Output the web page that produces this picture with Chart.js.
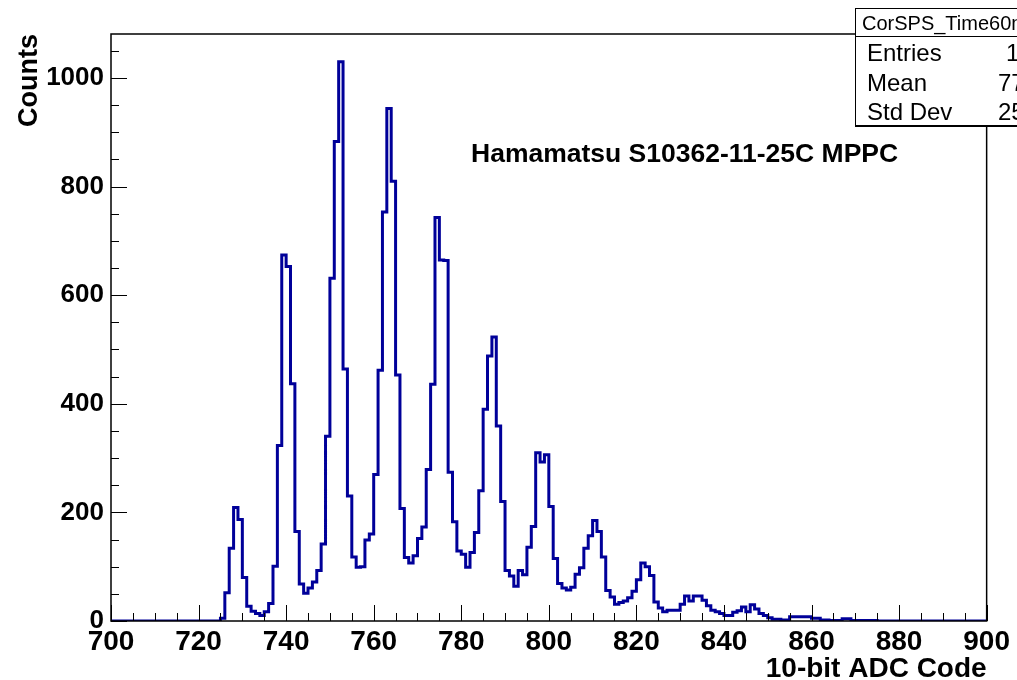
<!DOCTYPE html>
<html>
<head>
<meta charset="utf-8">
<script src="https://cdn.jsdelivr.net/npm/chart.js@4.4.1/dist/chart.umd.min.js"></script>
<style>
    body { margin: 0; background: #fff; }
    #wrap { width: 1017px; height: 680px; }
</style>
</head>
<body>
<div id="wrap"><canvas id="adcChart" width="1017" height="680"></canvas></div>
<script>
    // One bin per ADC code, first bin starts at firstCode
    const firstCode = 700;
    const lastCode = 900;
    const counts = [
        0, 0, 0, 0, 0, 0, 0, 0, 0, 0,                 // 700
        0, 0, 0, 0, 0, 0, 0, 0, 0, 0,                 // 710
        0, 0, 0, 0, 0, 5, 52, 134, 209, 187,          // 720
        80, 27, 18, 14, 10, 17, 32, 101, 323, 674,    // 730
        653, 437, 165, 68, 51, 61, 72, 93, 142, 340,  // 740
        631, 883, 1030, 464, 230, 118, 99, 100, 149, 160, // 750
        270, 462, 753, 944, 810, 453, 207, 117, 107, 120, // 760
        152, 173, 279, 436, 743, 665, 664, 274, 183, 129, // 770
        123, 99, 126, 163, 240, 390, 488, 523, 359, 220,  // 780
        93, 83, 64, 93, 85, 136, 174, 310, 293, 306,  // 790
        211, 115, 69, 61, 57, 62, 86, 98, 134, 157,   // 800
        185, 165, 118, 56, 44, 31, 34, 37, 43, 55,    // 810
        76, 107, 100, 84, 35, 24, 17, 20, 20, 20,     // 820
        31, 46, 37, 46, 46, 38, 28, 20, 17, 14,       // 830
        10, 10, 16, 19, 26, 17, 30, 22, 14, 10,       // 840
        6, 3, 3, 2, 2, 8, 8, 8, 8, 8,                 // 850
        5, 5, 2, 2, 1, 1, 1, 4, 4, 1,                 // 860
        1, 1, 1, 1, 1, 0, 0, 0, 0, 0,                 // 870
        0, 0, 0, 0, 0, 0, 0, 0, 0, 0,                 // 880
        0, 0, 0, 0, 0, 0, 0, 0, 0, 0                  // 890
    ];
    const xTickLabels = [700, 720, 740, 760, 780, 800, 820, 840, 860, 880, 900];
    const yTickLabels = [0, 200, 400, 600, 800, 1000];
    const yMax = 1081;

    // left bin edges, plus the closing edge so the last step is drawn
    const points = counts.map((c, i) => ({ x: firstCode + i, y: c }));
    points.push({ x: lastCode, y: counts[counts.length - 1] });

    Chart.defaults.font.family = "'Liberation Sans', Arial, sans-serif";
    Chart.defaults.color = '#000';

    const frameAndTicks = {
        id: 'frameAndTicks',
        afterDatasetsDraw(chart) {
            const { ctx, chartArea: a, scales: { x, y } } = chart;
            ctx.save();
            ctx.strokeStyle = '#000';
            ctx.lineWidth = 1;
            ctx.beginPath();
            for (let v = firstCode; v <= lastCode; v += 5) {
                const px = Math.round(x.getPixelForValue(v)) + 0.5;
                const len = v % 20 === 0 ? 16 : 8;
                ctx.moveTo(px, a.bottom);
                ctx.lineTo(px, a.bottom - len);
            }
            for (let v = 0; v <= yMax; v += 50) {
                const py = Math.round(y.getPixelForValue(v)) + 0.5;
                const len = v % 200 === 0 ? 16 : 8;
                ctx.moveTo(a.left, py);
                ctx.lineTo(a.left + len, py);
            }
            ctx.stroke();
            ctx.lineWidth = 1.5;
            ctx.strokeRect(a.left, a.top, a.right - a.left, a.bottom - a.top);
            ctx.restore();
        },
        afterDraw(chart) {
            const { ctx } = chart;
            ctx.save();
            // sensor label
            ctx.fillStyle = '#000';
            ctx.font = "bold 26.5px 'Liberation Sans', Arial, sans-serif";
            ctx.textBaseline = 'alphabetic';
            ctx.fillText('Hamamatsu S10362-11-25C MPPC', 471, 162);

            // statistics box
            ctx.fillStyle = '#fff';
            ctx.fillRect(855, 8, 200, 118);
            ctx.strokeStyle = '#000';
            ctx.lineWidth = 1;
            ctx.strokeRect(855.5, 8.5, 200, 117);
            ctx.beginPath();
            ctx.moveTo(855, 36.5);
            ctx.lineTo(1017, 36.5);
            ctx.moveTo(855, 126.5);
            ctx.lineTo(1017, 126.5);
            ctx.stroke();

            ctx.fillStyle = '#000';
            ctx.font = "20px 'Liberation Sans', Arial, sans-serif";
            ctx.fillText('CorSPS_Time60ns', 862, 30);
            ctx.font = "24px 'Liberation Sans', Arial, sans-serif";
            ctx.fillText('Entries', 867, 61);
            ctx.fillText('Mean', 867, 91);
            ctx.fillText('Std Dev', 867, 120);
            ctx.fillText('100000', 1006, 61);
            ctx.fillText('772.9', 998, 91);
            ctx.fillText('25.31', 998, 120);
            ctx.restore();
        }
    };

    const ctx = document.getElementById('adcChart').getContext('2d');
    new Chart(ctx, {
        type: 'line',
        data: {
            datasets: [{
                data: points,
                stepped: true,
                borderColor: '#000099',
                borderWidth: 3,
                pointRadius: 0,
                fill: false,
                tension: 0
            }]
        },
        options: {
            responsive: false,
            animation: false,
            devicePixelRatio: 1,
            layout: { padding: { top: 34, right: 29, bottom: 0, left: 0 } },
            plugins: {
                legend: { display: false },
                tooltip: { enabled: false }
            },
            scales: {
                x: {
                    type: 'linear',
                    min: firstCode,
                    max: lastCode,
                    afterBuildTicks: s => { s.ticks = xTickLabels.map(v => ({ value: v })); },
                    afterFit: s => { s.height = 59; },
                    grid: { display: false, drawTicks: false },
                    border: { display: false },
                    ticks: {
                        font: { size: 28, weight: 'bold', lineHeight: 1 },
                        padding: 7,
                        maxRotation: 0,
                        autoSkip: false,
                        callback: v => String(v)
                    },
                    title: {
                        display: true,
                        text: '10-bit ADC Code',
                        align: 'end',
                        font: { size: 28, weight: 'bold', lineHeight: 1 },
                        padding: { top: 0, bottom: -3 }
                    }
                },
                y: {
                    type: 'linear',
                    min: 0,
                    max: yMax,
                    afterBuildTicks: s => { s.ticks = yTickLabels.map(v => ({ value: v })); },
                    afterFit: s => { s.width = 111; },
                    grid: { display: false, drawTicks: false },
                    border: { display: false },
                    ticks: {
                        font: { size: 26, weight: 'bold', lineHeight: 1 },
                        padding: 7,
                        callback: v => String(v)
                    },
                    title: {
                        display: true,
                        text: 'Counts',
                        align: 'end',
                        font: { size: 27, weight: 'bold', lineHeight: 1 },
                        padding: { top: 16, bottom: 0 }
                    }
                }
            }
        },
        plugins: [frameAndTicks]
    });
</script>
</body>
</html>
